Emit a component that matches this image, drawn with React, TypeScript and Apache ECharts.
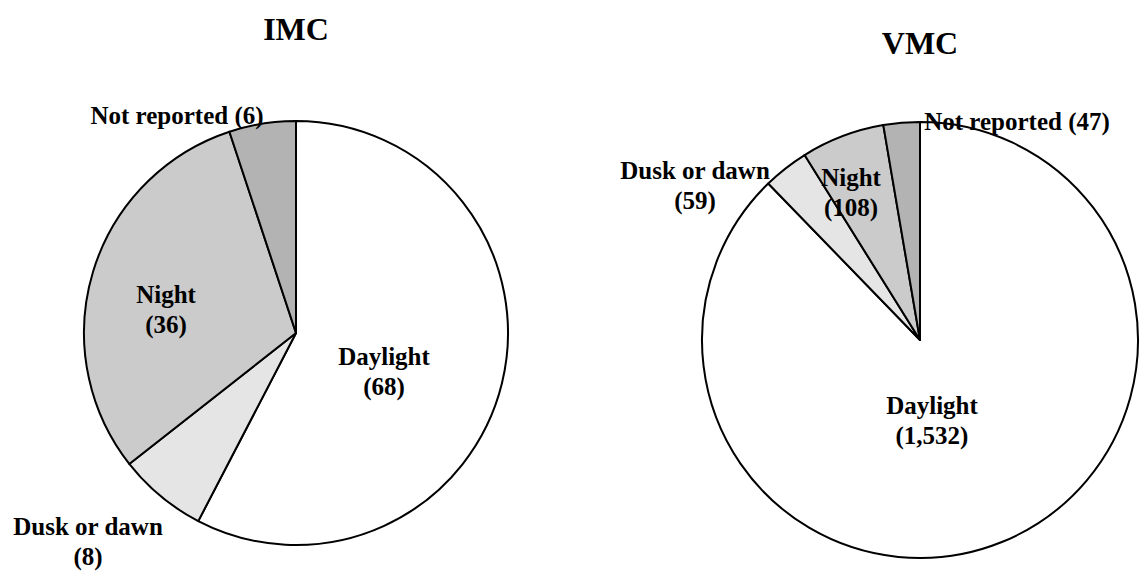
import React, { useEffect, useRef } from "react";
import * as echarts from "echarts";

const categories = ["Daylight", "Dusk or dawn", "Night", "Not reported"];
const imcValues = [68, 8, 36, 6];
const vmcValues = [1532, 59, 108, 47];
const imcLabels = ["Daylight\n(68)", "Dusk or dawn\n(8)", "Night\n(36)", "Not reported (6)"];
const vmcLabels = ["Daylight\n(1,532)", "Dusk or dawn\n(59)", "Night\n(108)", "Not reported (47)"];
const titles = ["IMC", "VMC"];
const colors = ["#ffffff", "#e5e5e5", "#cbcbcb", "#b3b3b3"];

// label anchor positions (layout only)
const imcLabelPos = [
  { x: 384, y: 371, align: "center" },
  { x: 88, y: 541, align: "center" },
  { x: 166, y: 309, align: "center" },
  { x: 177, y: 115, align: "center" },
];
const vmcLabelPos = [
  { x: 932, y: 420, align: "center" },
  { x: 695, y: 185, align: "center" },
  { x: 851, y: 192, align: "center" },
  { x: 1017, y: 121, align: "center" },
];

const FONT = "'Liberation Serif', 'Times New Roman', serif";

function makeSeries(values: number[], labels: string[], pos: any[], center: number[], radius: number) {
  return {
    type: "pie",
    center,
    radius,
    startAngle: 90,
    clockwise: true,
    silent: true,
    avoidLabelOverlap: false,
    itemStyle: { borderColor: "#000", borderWidth: 2 },
    label: {
      show: true,
      position: "inside",
      fontFamily: FONT,
      fontWeight: "bold",
      fontSize: 25,
      lineHeight: 30,
      color: "#000",
      formatter: (p: any) => labels[p.dataIndex],
    },
    labelLine: { show: false },
    labelLayout: (p: any) => {
      const q = pos[p.dataIndex];
      return { x: q.x, y: q.y, align: q.align, verticalAlign: "middle" };
    },
    emphasis: { disabled: true },
    data: categories.map((c, i) => ({
      name: c,
      value: values[i],
      itemStyle: { color: colors[i] },
    })),
  };
}

export default function App() {
  const ref = useRef<HTMLDivElement>(null);
  useEffect(() => {
    if (!ref.current) return;
    const chart = echarts.init(ref.current, null, { renderer: "svg" });
    chart.setOption({
      animation: false,
      backgroundColor: "#ffffff",
      graphic: [
        {
          type: "text",
          x: 296,
          y: 29,
          style: {
            text: titles[0],
            font: `bold 32px ${FONT}`,
            fill: "#000",
            textAlign: "center",
            textVerticalAlign: "middle",
          },
        },
        {
          type: "text",
          x: 920,
          y: 43,
          style: {
            text: titles[1],
            font: `bold 32px ${FONT}`,
            fill: "#000",
            textAlign: "center",
            textVerticalAlign: "middle",
          },
        },
      ],
      series: [
        makeSeries(imcValues, imcLabels, imcLabelPos, [296, 333], 212),
        makeSeries(vmcValues, vmcLabels, vmcLabelPos, [920, 340], 218),
      ],
    });
    return () => chart.dispose();
  }, []);
  return (
    <div
      ref={ref}
      style={{ position: "fixed", left: 0, top: 0, width: 1143, height: 573 }}
    />
  );
}
